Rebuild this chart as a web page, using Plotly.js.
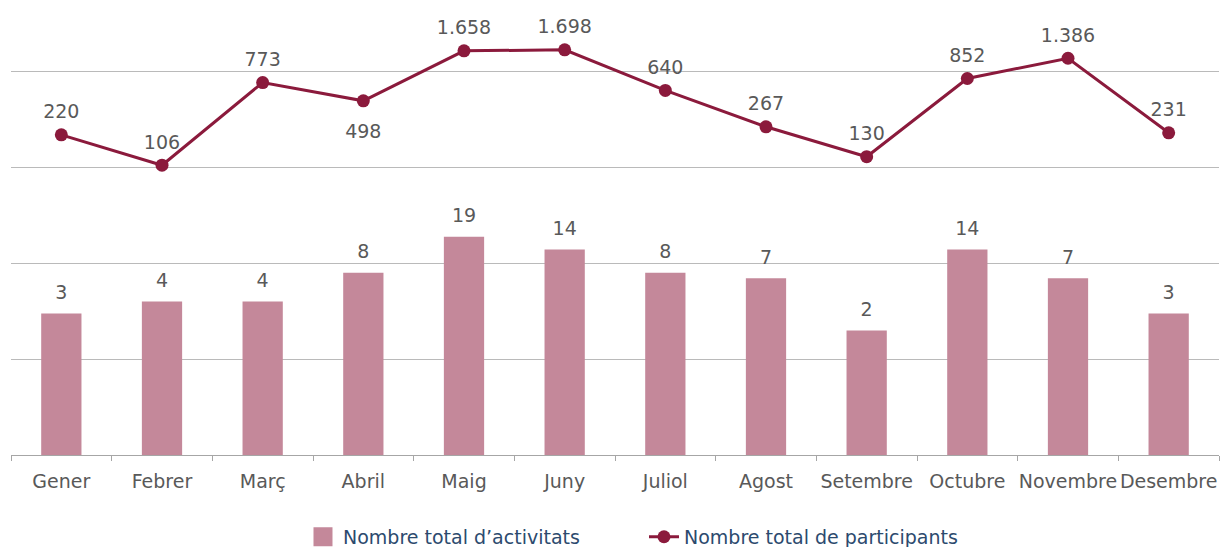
<!DOCTYPE html>
<html>
<head>
<meta charset="utf-8">
<script src="https://cdn.plot.ly/plotly-3.0.1.min.js"></script>
<style>html,body{margin:0;padding:0;background:#fff}#chart{width:1228px;height:547px}</style>
</head>
<body>
<div id="chart"></div>
<script>
const months = ["Gener","Febrer","Març","Abril","Maig","Juny","Juliol","Agost","Setembre","Octubre","Novembre","Desembre"];
const activitats = [3,4,4,8,19,14,8,7,2,14,7,3];
const participants = [220,106,773,498,1658,1698,640,267,130,852,1386,231];
const participantsLabelPos = ["top center","top center","top center","bottom center","top center","top center","top center","top center","top center","top center","top center","top center"];
const seriesNames = ["Nombre total d\u2019activitats","Nombre total de participants"];

const FONT = "DejaVu Sans, Verdana, sans-serif";
const LABEL = {family: FONT, size: 19, color: "#595959"};
const BAR_COLOR = "#c4889a";
const LINE_COLOR = "#8b1a3c";

const traces = [
  {
    type: "bar", x: months, y: activitats, name: seriesNames[0],
    marker: {color: BAR_COLOR}, width: 0.4, showlegend: false
  },
  {
    // bar value labels
    type: "scatter", mode: "markers+text", x: months, y: activitats,
    text: activitats.map(String), textposition: "top center",
    textfont: LABEL, marker: {size: 14, opacity: 0}, showlegend: false,
    hoverinfo: "skip", cliponaxis: false
  },
  {
    // legend entry for the bars
    type: "scatter", mode: "markers", x: [null], y: [null], name: seriesNames[0],
    marker: {symbol: "square", color: BAR_COLOR, size: 16, line: {color: BAR_COLOR, width: 3}}
  },
  {
    type: "scatter", mode: "lines+markers", x: months, y: participants,
    name: seriesNames[1],
    line: {color: LINE_COLOR, width: 3},
    marker: {color: LINE_COLOR, size: 13}
  },
  {
    // participant labels
    type: "scatter", mode: "markers+text", x: months, y: participants,
    texttemplate: "%{y:,}", textposition: participantsLabelPos,
    textfont: LABEL, showlegend: false, hoverinfo: "skip", cliponaxis: false,
    marker: {opacity: 0, size: participantsLabelPos.map(p => p.startsWith("top") ? 17 : 35)}
  }
];

const layout = {
  width: 1228, height: 547,
  margin: {l: 11, r: 9, t: 0, b: 92, autoexpand: false},
  paper_bgcolor: "#fff", plot_bgcolor: "#fff",
  separators: ",.",
  font: {family: FONT, size: 19, color: "#595959"},
  xaxis: {
    type: "category", range: [-0.5, 11.5], showgrid: false, zeroline: false,
    showline: true, linecolor: "#a6a6a6", linewidth: 1,
    ticks: "outside", tickson: "boundaries", ticklen: 5, tickcolor: "#a6a6a6",
    tickfont: LABEL, tickangle: 0, ticklabelstandoff: 9
  },
  yaxis: {
    type: "log", range: [-1, 3.75], dtick: 1,
    showticklabels: false, showgrid: true, gridcolor: "#bababa", gridwidth: 1,
    zeroline: false, showline: false, ticks: ""
  },
  legend: {
    orientation: "h", x: 0.524, xanchor: "center", y: -0.18, yanchor: "middle",
    font: {family: FONT, size: 19, color: "#2c4a6e"},
    entrywidthmode: "pixels", entrywidth: 296
  },
  showlegend: true
};

Plotly.newPlot("chart", traces, layout, {displayModeBar: false, staticPlot: true});
</script>
</body>
</html>
